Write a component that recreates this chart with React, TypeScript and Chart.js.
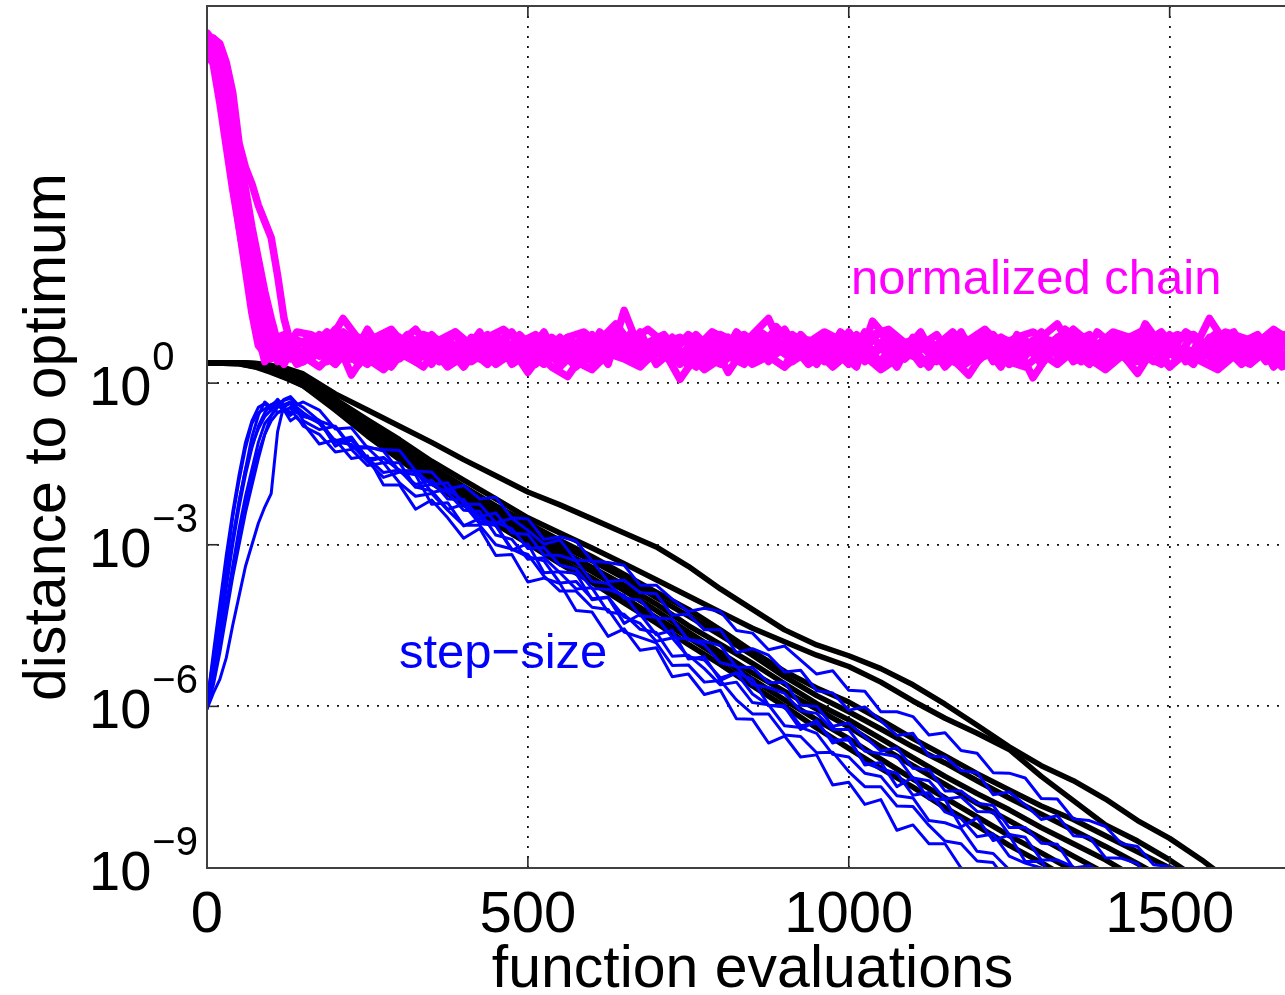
import React, { useEffect, useRef } from 'react';
import { Chart, registerables } from 'chart.js';

Chart.register(...registerables);

// ---------- axis definitions ----------
const X_MIN = 0;
const X_MAX = 1700;
const Y_MIN = 1e-9;
const Y_MAX = 1e7;
const X_TICKS = [0, 500, 1000, 1500];
const X_TICK_LABELS = ['0', '500', '1000', '1500'];
const Y_TICK_EXPONENTS = [0, -3, -6, -9];
const X_TITLE = 'function evaluations';
const Y_TITLE = 'distance to optimum';
const LABEL_CHAIN = 'normalized chain';
const LABEL_STEP = 'step\u2212size';

// ---------- data (values are log10 of the plotted quantity) ----------
// distance to optimum (black)
const BLACK_X = [0, 50, 75, 100, 125, 150, 200, 250, 300, 350, 400, 450, 500, 550, 600, 650, 700, 750, 800, 850, 900, 950, 1000, 1050, 1100, 1150, 1200, 1250, 1300, 1350, 1400, 1450, 1500, 1550, 1600];
const DIST_1 = [0.38, 0.38, 0.37, 0.33, 0.27, 0.17, -0.2, -0.5, -0.8, -1.1, -1.42, -1.72, -2.02, -2.26, -2.52, -2.78, -3.04, -3.4, -3.82, -4.2, -4.58, -4.86, -5.06, -5.3, -5.6, -5.96, -6.35, -6.75, -7.1, -7.38, -7.72, -8.12, -8.45, -8.85, -9.3];
const DIST_2 = [0.38, 0.38, 0.36, 0.3, 0.2, 0.08, -0.3, -0.68, -1.05, -1.45, -1.8, -2.15, -2.5, -2.78, -3.06, -3.35, -3.65, -3.95, -4.25, -4.55, -4.8, -5.05, -5.26, -5.55, -5.9, -6.22, -6.5, -6.8, -7.3, -7.75, -8.2, -8.5, -8.85, -9.25];
const DIST_3 = [0.38, 0.37, 0.33, 0.25, 0.13, 0.0, -0.38, -0.78, -1.15, -1.55, -1.92, -2.28, -2.6, -2.92, -3.22, -3.55, -3.88, -4.2, -4.58, -4.98, -5.35, -5.66, -5.92, -6.25, -6.6, -6.92, -7.25, -7.55, -7.85, -8.1, -8.4, -8.7, -9.0, -9.3];
const DIST_4 = [0.38, 0.38, 0.35, 0.27, 0.15, 0.02, -0.4, -0.82, -1.22, -1.62, -1.98, -2.35, -2.68, -3.0, -3.3, -3.62, -3.98, -4.32, -4.68, -5.05, -5.45, -5.8, -6.1, -6.42, -6.75, -7.05, -7.38, -7.7, -8.0, -8.3, -8.6, -8.92, -9.25];
const DIST_5 = [0.38, 0.36, 0.3, 0.2, 0.08, -0.05, -0.45, -0.88, -1.3, -1.7, -2.05, -2.42, -2.75, -3.1, -3.42, -3.75, -4.1, -4.5, -4.85, -5.2, -5.58, -5.95, -6.25, -6.6, -6.95, -7.3, -7.62, -7.92, -8.25, -8.55, -8.85, -9.2];
const DIST_6 = [0.38, 0.37, 0.34, 0.24, 0.1, -0.03, -0.48, -0.92, -1.35, -1.75, -2.12, -2.5, -2.82, -3.18, -3.5, -3.85, -4.22, -4.62, -5.0, -5.38, -5.72, -6.05, -6.38, -6.75, -7.1, -7.45, -7.8, -8.12, -8.45, -8.78, -9.1];
const DIST_7 = [0.38, 0.38, 0.36, 0.28, 0.14, 0.0, -0.42, -0.9, -1.38, -1.8, -2.2, -2.58, -2.9, -3.28, -3.62, -3.98, -4.35, -4.72, -5.1, -5.5, -5.88, -6.25, -6.6, -6.98, -7.35, -7.7, -8.05, -8.4, -8.72, -9.05, -9.4];
const DIST_8 = [0.38, 0.36, 0.31, 0.22, 0.1, -0.05, -0.5, -0.98, -1.42, -1.85, -2.25, -2.62, -2.98, -3.35, -3.7, -4.08, -4.45, -4.85, -5.22, -5.62, -6.0, -6.4, -6.78, -7.15, -7.5, -7.88, -8.22, -8.58, -8.9, -9.25];

// step-size (blue)
const BLUE_X = [0, 10, 20, 30, 40, 50, 60, 70, 80, 90, 100, 110, 120, 130, 140, 150, 175, 200, 225, 250, 275, 300, 325, 350, 375, 400, 425, 450, 475, 500, 525, 550, 575, 600, 625, 650, 675, 700, 725, 750, 775, 800, 825, 850, 875, 900, 925, 950, 975, 1000, 1025, 1050, 1075, 1100, 1125, 1150, 1175, 1200, 1225, 1250, 1275, 1300, 1325, 1350, 1375, 1400, 1425, 1450, 1475, 1500, 1525, 1550];
const STEP_1 = [-6.0, -5.6, -5.0, -4.3, -3.6, -3.0, -2.4, -1.9, -1.4, -0.95, -0.6, -0.45, -0.32, -0.28, -0.4, -0.35, -0.50, -0.85, -0.83, -1.20, -1.23, -1.25, -1.63, -1.65, -1.97, -1.90, -2.15, -2.12, -2.50, -2.52, -2.90, -2.85, -2.93, -3.30, -3.33, -3.38, -3.75, -3.75, -4.01, -4.24, -4.18, -4.24, -4.59, -4.64, -4.95, -4.88, -5.14, -5.40, -5.34, -5.70, -5.72, -6.10, -6.10, -6.19, -6.53, -6.49, -6.82, -6.87, -7.23, -7.24, -7.33, -7.71, -7.72, -8.09, -8.12, -8.23, -8.55, -8.60, -8.94, -8.97, -9.07, -9.37];
const STEP_2 = [-5.95, -5.0, -4.1, -3.2, -2.4, -1.7, -1.1, -0.7, -0.45, -0.38, -0.5, -0.35, -0.45, -0.55, -0.5, -0.7, -0.86, -0.80, -1.18, -1.18, -1.26, -1.64, -1.63, -1.88, -1.85, -2.25, -2.25, -2.59, -2.51, -2.73, -2.99, -2.91, -3.29, -3.30, -3.68, -3.66, -3.89, -3.91, -4.31, -4.29, -4.58, -4.58, -5.00, -4.93, -5.05, -5.36, -5.33, -5.71, -5.75, -6.07, -6.01, -6.27, -6.54, -6.50, -6.92, -6.94, -7.19, -7.23, -7.64, -7.59, -7.83, -8.10, -8.03, -8.40, -8.43, -8.81, -8.82, -8.92, -9.30];
const STEP_3 = [-6.05, -5.2, -4.3, -3.4, -2.5, -1.8, -1.2, -0.75, -0.55, -0.48, -0.4, -0.55, -0.5, -0.7, -0.62, -0.8, -0.95, -1.28, -1.23, -1.53, -1.48, -1.85, -2.10, -2.05, -2.36, -2.64, -2.64, -3.00, -3.08, -3.18, -3.58, -3.86, -3.86, -4.16, -4.20, -4.62, -4.72, -4.82, -5.24, -5.23, -5.55, -5.52, -5.88, -6.14, -6.14, -6.53, -6.56, -6.86, -6.85, -7.21, -7.49, -7.49, -7.85, -7.86, -8.21, -8.50, -8.55, -8.87, -8.90, -9.30];
const STEP_4 = [-6.0, -5.4, -4.8, -4.1, -3.4, -2.7, -2.1, -1.6, -1.1, -0.75, -0.6, -0.42, -0.3, -0.25, -0.38, -0.45, -0.70, -0.81, -1.21, -1.20, -1.48, -1.48, -1.93, -1.88, -2.03, -2.36, -2.38, -2.82, -2.90, -3.27, -3.24, -3.52, -3.82, -3.80, -4.25, -4.29, -4.57, -4.63, -5.07, -5.05, -5.30, -5.60, -5.55, -5.93, -5.97, -6.36, -6.39, -6.50, -6.89, -6.94, -7.24, -7.30, -7.66, -7.70, -8.12, -8.16, -8.27, -8.69, -8.73, -9.03, -9.05, -9.40];
const STEP_5 = [-5.9, -5.1, -4.4, -3.6, -2.9, -2.2, -1.6, -1.0, -0.6, -0.35, -0.45, -0.3, -0.42, -0.38, -0.55, -0.6, -0.74, -1.10, -1.06, -1.39, -1.66, -1.61, -1.93, -2.00, -2.34, -2.25, -2.61, -2.64, -3.08, -3.22, -3.30, -3.71, -3.68, -4.00, -3.97, -4.34, -4.46, -4.79, -4.73, -5.08, -5.14, -5.47, -5.38, -5.77, -5.98, -5.99, -6.36, -6.31, -6.62, -6.63, -7.05, -7.16, -7.24, -7.65, -7.60, -7.96, -8.08, -8.42, -8.37, -8.78, -8.91, -9.00, -9.44];
const STEP_6 = [-6.0, -5.5, -4.9, -4.2, -3.5, -2.9, -2.3, -1.75, -1.3, -0.95, -0.7, -0.55, -0.48, -0.6, -0.5, -0.62, -0.69, -1.09, -1.14, -1.45, -1.38, -1.63, -1.88, -1.80, -2.15, -2.16, -2.57, -2.59, -2.70, -3.07, -3.05, -3.38, -3.45, -3.81, -3.83, -3.94, -4.32, -4.35, -4.72, -4.75, -4.86, -5.19, -5.26, -5.60, -5.65, -5.76, -6.08, -6.13, -6.43, -6.43, -6.83, -6.88, -6.93, -7.33, -7.38, -7.72, -7.68, -7.95, -7.96, -8.38, -8.43, -8.85, -8.85, -8.98, -9.30];
const STEP_7 = [-6.05, -5.75, -5.5, -5.1, -4.5, -3.95, -3.4, -3.0, -2.6, -2.3, -2.05, -0.9, -0.4, -0.35, -0.45, -0.55, -0.75, -1.07, -1.00, -1.40, -1.39, -1.62, -1.63, -2.03, -1.97, -2.19, -2.48, -2.41, -2.78, -2.81, -3.19, -3.20, -3.30, -3.68, -3.72, -3.99, -4.03, -4.36, -4.38, -4.77, -4.79, -4.87, -5.27, -5.28, -5.56, -5.55, -5.98, -6.00, -6.37, -6.31, -6.56, -6.83, -6.77, -7.15, -7.18, -7.57, -7.57, -7.80, -7.84, -8.25, -8.25, -8.54, -8.56, -9.00, -8.96, -9.10, -9.44];
const STEP_8 = [-5.95, -5.3, -4.6, -3.8, -3.0, -2.3, -1.7, -1.2, -0.8, -0.55, -0.4, -0.33, -0.45, -0.35, -0.5, -0.6, -0.70, -1.17, -1.02, -1.45, -1.75, -1.65, -1.70, -2.25, -2.22, -2.65, -2.51, -2.64, -3.10, -2.98, -3.52, -3.50, -3.53, -4.02, -3.98, -4.46, -4.29, -4.67, -4.59, -5.12, -5.08, -5.52, -5.38, -5.50, -5.98, -6.01, -6.43, -6.26, -6.68, -6.58, -7.09, -7.04, -7.49, -7.32, -7.72, -7.73, -8.24, -8.07, -8.49, -8.39, -8.88, -8.88, -9.27, -9.30];
const STEP_9 = [-6.0, -5.3, -4.5, -3.7, -2.9, -2.2, -1.6, -1.15, -0.85, -0.62, -0.5, -0.4, -0.52, -0.45, -0.65, -0.75, -1.13, -1.05, -1.40, -1.35, -1.89, -1.89, -2.34, -2.17, -2.50, -2.88, -2.70, -3.20, -3.18, -3.69, -3.62, -3.72, -4.22, -4.25, -4.70, -4.56, -4.96, -4.91, -5.45, -5.40, -5.78, -5.70, -6.23, -6.24, -6.68, -6.55, -6.94, -6.90, -7.46, -7.41, -7.82, -7.73, -8.30, -8.20, -8.55, -8.55, -9.00, -9.10, -9.30];

// normalized chain (magenta)
const CHAIN_XA = [0, 10, 20, 30, 40, 50, 60, 70, 80, 90, 100, 110, 120, 130, 140, 150, 175, 200, 225, 250, 275, 300, 325, 350, 375, 400, 425, 450, 475, 500, 525, 550, 575, 600, 625, 650, 675, 700, 725, 750, 775, 800, 825, 850, 875, 900, 925, 950, 975, 1000, 1025, 1050, 1075, 1100, 1125, 1150, 1175, 1200, 1225, 1250, 1275, 1300, 1325, 1350, 1375, 1400, 1425, 1450, 1475, 1500, 1525, 1550, 1575, 1600, 1625, 1650, 1675, 1700];
const CHAIN_XB = [0, 10, 20, 30, 40, 50, 60, 70, 80, 90, 100, 110, 120, 130, 140, 162, 187, 212, 237, 262, 287, 312, 337, 362, 387, 412, 437, 462, 487, 512, 537, 562, 587, 612, 637, 662, 687, 712, 737, 762, 787, 812, 837, 862, 887, 912, 937, 962, 987, 1012, 1037, 1062, 1087, 1112, 1137, 1162, 1187, 1212, 1237, 1262, 1287, 1312, 1337, 1362, 1387, 1412, 1437, 1462, 1487, 1512, 1537, 1562, 1587, 1612, 1637, 1662, 1687, 1712];
const CHAIN_1 = [6.35, 6.2, 5.5, 4.6, 3.7, 2.9, 2.1, 1.3, 0.7, 0.55, 0.7, 0.5, 0.75, 0.6, 0.8, 0.75, 0.5, 0.85, 0.15, 0.6, 0.9, 0.45, 0.7, 0.35, 0.8, 0.55, 0.95, 0.4, 0.65, 0.2, 0.6, 0.85, 0.5, 0.75, 0.35, 1.35, 0.6, 0.8, 0.4, 0.65, 0.3, 0.7, 0.5, 0.9, 1.2, 0.55, 0.75, 0.35, 0.85, 0.5, 0.7, 0.95, 0.45, 0.65, 0.3, 0.8, 0.55, 0.9, 0.4, 0.7, 0.5, 0.85, 1.1, 0.6, 0.35, 0.75, 0.55, 0.18, 0.65, 0.9, 0.45, 0.7, 0.95, 0.5, 0.8, 0.4, 0.7, 0.55];
const CHAIN_2 = [6.45, 6.3, 5.9, 5.0, 4.2, 3.3, 2.5, 1.8, 1.1, 0.6, 0.45, 0.65, 0.5, 0.8, 0.6, 0.45, 0.7, 1.2, 0.8, 0.5, 0.55, 0.9, 0.65, 0.4, 0.45, 0.85, 0.75, 0.5, 0.9, 0.6, 0.3, 0.12, 0.55, 0.8, 1.1, 0.7, 0.45, 0.6, 0.07, 0.5, 0.8, 0.2, 0.65, 0.95, 0.75, 0.4, 0.6, 0.85, 0.55, 0.3, 1.15, 0.8, 0.5, 0.7, 0.9, 0.45, 0.15, 0.6, 0.85, 0.7, 0.1, 0.55, 1.0, 0.8, 0.5, 0.65, 0.4, 1.1, 0.7, 0.45, 0.6, 1.2, 0.75, 0.5, 0.85, 0.3, 0.6, 0.75];
const CHAIN_3 = [6.2, 6.4, 6.3, 5.95, 5.4, 4.45, 4.0, 3.7, 3.3, 3.0, 2.7, 2.0, 1.2, 0.75, 0.55, 0.6, 0.9, 0.7, 0.45, 1.0, 0.55, 0.75, 1.0, 0.6, 0.5, 0.8, 0.45, 0.7, 0.95, 0.55, 0.35, 0.6, 0.3, 0.65, 0.9, 0.75, 0.45, 0.55, 0.85, 0.3, 0.55, 0.9, 0.75, 0.45, 0.8, 1.0, 0.5, 0.7, 0.45, 0.95, 0.55, 0.4, 0.85, 0.6, 0.8, 0.45, 0.35, 0.6, 0.9, 0.55, 0.75, 0.35, 0.7, 1.0, 0.75, 0.5, 0.85, 0.6, 0.4, 0.55, 0.95, 0.75, 0.5, 0.85, 0.55, 0.7, 0.45, 0.8];
const CHAIN_4 = [6.0, 6.25, 5.7, 5.1, 4.4, 3.7, 3.0, 2.3, 1.6, 1.0, 0.6, 0.4, 0.55, 0.45, 0.7, 0.85, 0.4, 0.65, 0.35, 0.8, 0.95, 0.5, 0.3, 0.7, 0.9, 0.4, 0.6, 0.85, 0.45, 0.7, 0.8, 0.5, 0.9, 0.4, 0.6, 0.95, 0.55, 0.85, 0.35, 0.7, 0.45, 0.6, 0.85, 0.5, 1.05, 0.7, 0.35, 0.55, 0.8, 0.6, 0.85, 0.5, 0.75, 0.35, 0.6, 0.85, 0.45, 0.7, 0.3, 0.9, 0.55, 0.8, 0.6, 0.4, 0.95, 0.7, 0.85, 0.5, 0.35, 0.8, 0.9, 0.6, 0.4, 0.75, 0.9, 0.55, 0.35, 0.65];
const CHAIN_5 = [6.5, 6.35, 6.0, 5.4, 4.6, 3.8, 3.1, 2.5, 1.9, 1.3, 0.8, 0.55, 0.35, 0.6, 0.5, 0.4, 0.65, 1.0, 0.55, 0.35, 0.7, 0.6, 0.4, 0.85, 0.65, 0.3, 0.7, 0.9, 0.35, 0.55, 0.95, 0.4, 0.7, 0.5, 0.85, 0.55, 0.95, 0.35, 0.6, 0.9, 0.7, 0.4, 0.95, 0.65, 0.5, 0.3, 0.9, 0.6, 0.7, 0.4, 0.95, 0.7, 0.3, 0.85, 0.55, 0.6, 0.95, 0.4, 0.65, 0.35, 0.6, 0.95, 0.5, 0.75, 0.9, 0.35, 0.7, 0.45, 0.85, 0.3, 0.65, 0.45, 0.8, 0.95, 0.4, 0.6, 0.9, 0.5];
const CHAIN_6 = [6.3, 6.1, 5.6, 4.9, 4.0, 3.1, 2.3, 1.5, 0.9, 0.4, 0.55, 0.7, 0.45, 0.65, 0.4, 0.65, 0.95, 0.5, 0.75, 0.55, 0.3, 0.7, 0.85, 0.55, 0.95, 0.6, 0.35, 0.65, 0.75, 0.4, 0.85, 0.65, 0.4, 0.95, 0.65, 0.4, 0.75, 0.9, 0.55, 0.3, 0.65, 0.5, 0.35, 0.75, 0.6, 0.9, 0.7, 0.4, 0.95, 0.7, 0.55, 0.9, 0.6, 0.95, 0.4, 0.65, 0.5, 0.85, 0.6, 0.4, 0.8, 0.7, 0.95, 0.55, 0.7, 0.9, 0.6, 0.75, 0.95, 0.6, 0.35, 0.85, 0.65, 0.35, 0.6, 0.75, 0.95, 0.45];
const CHAIN_7 = [6.4, 6.15, 5.8, 5.2, 4.5, 3.9, 3.3, 2.7, 2.1, 1.5, 1.0, 0.7, 0.5, 0.65, 0.55, 0.55, 0.8, 0.6, 0.45, 0.7, 0.5, 0.85, 0.6, 0.75, 0.45, 0.65, 0.55, 0.8, 0.5, 0.7, 0.45, 0.75, 0.6, 0.4, 0.7, 0.8, 0.5, 0.65, 0.75, 0.45, 0.6, 0.8, 0.55, 0.7, 0.45, 0.65, 0.85, 0.55, 0.6, 0.75, 0.4, 0.65, 0.5, 0.8, 0.6, 0.7, 0.45, 0.75, 0.55, 0.6, 0.8, 0.5, 0.7, 0.45, 0.65, 0.8, 0.6, 0.5, 0.75, 0.6, 0.45, 0.7, 0.55, 0.8, 0.6, 0.5, 0.7, 0.6];
const CHAIN_8 = [6.25, 6.4, 6.1, 5.6, 5.0, 4.3, 3.6, 2.9, 2.3, 1.7, 1.2, 0.75, 0.55, 0.7, 0.5, 0.7, 0.5, 0.75, 0.6, 0.45, 0.8, 0.55, 0.65, 0.4, 0.7, 0.6, 0.8, 0.45, 0.65, 0.75, 0.5, 0.6, 0.7, 0.45, 0.8, 0.6, 0.7, 0.5, 0.45, 0.75, 0.6, 0.85, 0.5, 0.65, 0.55, 0.75, 0.45, 0.7, 0.6, 0.5, 0.8, 0.65, 0.45, 0.7, 0.55, 0.8, 0.6, 0.5, 0.75, 0.45, 0.65, 0.7, 0.5, 0.8, 0.6, 0.45, 0.7, 0.55, 0.8, 0.6, 0.5, 0.75, 0.65, 0.45, 0.7, 0.6, 0.5, 0.65];
const CHAIN_9 = [6.3, 5.9, 5.2, 4.4, 3.6, 2.9, 2.2, 1.6, 1.1, 0.75, 0.6, 0.45, 0.7, 0.55, 0.65, 0.5, 0.3, 0.6, 0.8, 0.55, 0.35, 0.75, 0.5, 0.9, 0.6, 0.35, 0.55, 0.75, 0.6, 0.4, 0.8, 0.3, 0.6, 0.9, 0.5, 0.7, 0.35, 0.55, 0.6, 0.85, 0.5, 0.35, 0.6, 0.8, 0.4, 0.75, 0.5, 0.6, 0.3, 0.55, 0.8, 0.35, 0.6, 0.5, 0.75, 0.3, 0.6, 0.8, 0.5, 0.35, 0.65, 0.55, 0.85, 0.4, 0.6, 0.3, 0.75, 0.55, 0.6, 0.85, 0.4, 0.6, 0.35, 0.65, 0.5, 0.85, 0.4, 0.6];
const CHAIN_10 = [6.4, 6.0, 5.3, 4.7, 4.0, 3.4, 2.8, 2.2, 1.6, 1.1, 0.8, 0.6, 0.8, 0.65, 0.75, 0.8, 0.6, 0.45, 0.85, 0.65, 0.9, 0.5, 0.7, 0.8, 0.4, 0.7, 0.9, 0.55, 0.75, 0.35, 0.65, 0.85, 0.6, 0.7, 0.95, 0.5, 0.65, 0.8, 0.45, 0.9, 0.6, 0.75, 0.5, 0.85, 0.65, 0.45, 0.8, 0.7, 0.55, 0.9, 0.6, 0.75, 0.45, 0.8, 0.7, 0.95, 0.55, 0.65, 0.85, 0.5, 0.75, 0.6, 0.9, 0.7, 0.45, 0.8, 0.6, 0.85, 0.7, 0.5, 0.9, 0.65, 0.8, 0.55, 0.7, 0.9, 0.6, 0.75];
const CHAIN_11 = [6.1, 6.3, 5.9, 5.3, 4.7, 4.0, 3.3, 2.6, 2.0, 1.4, 0.9, 0.6, 0.4, 0.55, 0.35, 0.4, 0.6, 0.35, 0.7, 0.45, 0.25, 0.55, 0.4, 0.65, 0.3, 0.5, 0.7, 0.35, 0.55, 0.3, 0.45, 0.65, 0.4, 0.25, 0.55, 0.45, 0.3, 0.6, 0.4, 0.55, 0.25, 0.45, 0.6, 0.35, 0.5, 0.3, 0.55, 0.4, 0.65, 0.35, 0.5, 0.25, 0.45, 0.6, 0.35, 0.55, 0.3, 0.5, 0.65, 0.4, 0.3, 0.55, 0.35, 0.6, 0.45, 0.25, 0.5, 0.4, 0.6, 0.3, 0.55, 0.4, 0.25, 0.5, 0.35, 0.6, 0.3, 0.45];
const CHAIN_12 = [6.35, 6.2, 5.75, 5.2, 4.6, 3.95, 3.3, 2.7, 2.0, 1.45, 0.95, 0.85, 0.9, 0.75, 0.95, 0.9, 0.75, 0.95, 0.7, 0.85, 1.0, 0.65, 0.9, 0.8, 0.95, 0.7, 0.85, 1.0, 0.75, 0.9, 0.65, 0.85, 0.95, 0.7, 0.9, 0.8, 1.0, 0.75, 0.85, 0.65, 0.95, 0.8, 0.9, 0.7, 1.0, 0.85, 0.75, 0.95, 0.8, 0.7, 0.9, 1.0, 0.75, 0.85, 0.65, 0.9, 0.8, 1.0, 0.7, 0.85, 0.95, 0.75, 0.9, 0.8, 0.7, 0.95, 0.85, 1.0, 0.75, 0.9, 0.8, 0.7, 0.95, 0.85, 0.75, 1.0, 0.8, 0.9];

// ---------- styling ----------
const FONT = "'Liberation Sans', Arial, Helvetica, sans-serif";
const MAGENTA = '#ff00ff';
const BLUE = '#0000ff';
const BLACK = '#000000';

function series(xs: number[], logs: number[], color: string, width: number) {
  const n = Math.min(xs.length, logs.length);
  const data: { x: number; y: number }[] = [];
  for (let i = 0; i < n; i++) data.push({ x: xs[i], y: Math.pow(10, logs[i]) });
  return {
    data,
    borderColor: color,
    backgroundColor: color,
    borderWidth: width,
    pointRadius: 0,
    pointHoverRadius: 0,
    fill: false,
    tension: 0,
    borderJoinStyle: 'round' as const,
    borderCapStyle: 'round' as const,
    clip: 0,
  };
}

const decorPlugin = {
  id: 'decor',
  afterDatasetsDraw(chart: any) {
    const { ctx, chartArea: a, scales } = chart;
    const xs = scales.x;
    const ys = scales.y;
    ctx.save();
    const line = (x1: number, y1: number, x2: number, y2: number) => {
      ctx.beginPath();
      ctx.moveTo(x1, y1);
      ctx.lineTo(x2, y2);
      ctx.stroke();
    };
    ctx.strokeStyle = '#262626';
    ctx.lineWidth = 1.6;
    const TL = 12;
    X_TICKS.forEach((v) => {
      const px = xs.getPixelForValue(v);
      line(px, a.bottom, px, a.bottom - TL);
      line(px, a.top, px, a.top + TL);
    });
    Y_TICK_EXPONENTS.forEach((e) => {
      const py = ys.getPixelForValue(Math.pow(10, e));
      line(a.left, py, a.left + TL, py);
      line(a.right, py, a.right - TL, py);
    });
    ctx.strokeStyle = '#404040';
    ctx.lineWidth = 2;
    ctx.strokeRect(a.left, a.top, a.right - a.left, a.bottom - a.top);
    ctx.restore();
  },
  afterDraw(chart: any) {
    const { ctx, chartArea: a, scales } = chart;
    const xs = scales.x;
    const ys = scales.y;
    ctx.save();
    ctx.fillStyle = '#000';
    ctx.textBaseline = 'alphabetic';
    Y_TICK_EXPONENTS.forEach((e) => {
      const py = ys.getPixelForValue(Math.pow(10, e));
      ctx.textAlign = 'left';
      ctx.font = `56px ${FONT}`;
      ctx.fillText('10', 89, py + 22);
      const w = ctx.measureText('10').width;
      ctx.font = `40px ${FONT}`;
      ctx.fillText(e === 0 ? '0' : '\u2212' + Math.abs(e), 89 + w + 1, py - 13);
    });
    ctx.font = `58px ${FONT}`;
    ctx.textAlign = 'center';
    X_TICKS.forEach((v, i) => {
      ctx.fillText(X_TICK_LABELS[i], xs.getPixelForValue(v), 932);
    });
    ctx.font = `59px ${FONT}`;
    ctx.fillText(X_TITLE, (a.left + a.right) / 2, 987);
    ctx.save();
    ctx.translate(65, (a.top + a.bottom) / 2);
    ctx.rotate(-Math.PI / 2);
    ctx.fillText(Y_TITLE, 0, 0);
    ctx.restore();
    ctx.textAlign = 'left';
    ctx.font = `49px ${FONT}`;
    ctx.fillStyle = MAGENTA;
    ctx.fillText(LABEL_CHAIN, 851, 294);
    ctx.fillStyle = BLUE;
    ctx.fillText(LABEL_STEP, 399, 668);
    ctx.restore();
  },
};

export default function App() {
  const ref = useRef<HTMLCanvasElement>(null);
  useEffect(() => {
    document.body.style.margin = '0';
    const canvas = ref.current;
    if (!canvas) return;
    const MW = 7.5;
    const BW = 3;
    const KW = 5.5;
    const datasets: any[] = [
      series(CHAIN_XA, CHAIN_1, MAGENTA, MW),
      series(CHAIN_XB, CHAIN_2, MAGENTA, MW),
      series(CHAIN_XA, CHAIN_3, MAGENTA, MW),
      series(CHAIN_XB, CHAIN_4, MAGENTA, MW),
      series(CHAIN_XA, CHAIN_5, MAGENTA, MW),
      series(CHAIN_XB, CHAIN_6, MAGENTA, MW),
      series(CHAIN_XA, CHAIN_7, MAGENTA, MW),
      series(CHAIN_XB, CHAIN_8, MAGENTA, MW),
      series(CHAIN_XA, CHAIN_9, MAGENTA, MW),
      series(CHAIN_XB, CHAIN_10, MAGENTA, MW),
      series(CHAIN_XA, CHAIN_11, MAGENTA, MW),
      series(CHAIN_XB, CHAIN_12, MAGENTA, MW),
      series(BLUE_X, STEP_1, BLUE, BW),
      series(BLUE_X, STEP_2, BLUE, BW),
      series(BLUE_X, STEP_3, BLUE, BW),
      series(BLUE_X, STEP_4, BLUE, BW),
      series(BLUE_X, STEP_5, BLUE, BW),
      series(BLUE_X, STEP_6, BLUE, BW),
      series(BLUE_X, STEP_7, BLUE, BW),
      series(BLUE_X, STEP_8, BLUE, BW),
      series(BLUE_X, STEP_9, BLUE, BW),
      series(BLACK_X, DIST_1, BLACK, KW),
      series(BLACK_X, DIST_2, BLACK, KW),
      series(BLACK_X, DIST_3, BLACK, KW),
      series(BLACK_X, DIST_4, BLACK, KW),
      series(BLACK_X, DIST_5, BLACK, KW),
      series(BLACK_X, DIST_6, BLACK, KW),
      series(BLACK_X, DIST_7, BLACK, KW),
      series(BLACK_X, DIST_8, BLACK, KW),
    ];
    const gridCommon = {
      color: '#111111',
      lineWidth: 1.8,
      drawTicks: false,
    };
    const chart = new Chart(canvas, {
      type: 'line',
      data: { datasets },
      options: {
        animation: false,
        responsive: false,
        maintainAspectRatio: false,
        events: [],
        layout: { padding: { left: 207, top: 6, right: 2, bottom: 127 } },
        plugins: { legend: { display: false }, tooltip: { enabled: false } },
        scales: {
          x: {
            type: 'linear',
            min: X_MIN,
            max: X_MAX,
            afterBuildTicks: (s: any) => {
              s.ticks = X_TICKS.map((v) => ({ value: v }));
            },
            afterFit: (s: any) => {
              s.height = 0;
            },
            ticks: { display: false },
            grid: gridCommon,
            border: { display: false, dash: [2, 8] },
          },
          y: {
            type: 'logarithmic',
            min: Y_MIN,
            max: Y_MAX,
            afterBuildTicks: (s: any) => {
              s.ticks = Y_TICK_EXPONENTS.map((e) => ({ value: Math.pow(10, e) }));
            },
            afterFit: (s: any) => {
              s.width = 0;
            },
            ticks: { display: false },
            grid: gridCommon,
            border: { display: false, dash: [2, 8] },
          },
        },
      } as any,
      plugins: [decorPlugin],
    });
    return () => chart.destroy();
  }, []);
  return (
    <div style={{ width: 1285, height: 995, overflow: 'hidden', position: 'relative', background: '#fff' }}>
      <canvas ref={ref} width={1300} height={995} style={{ display: 'block', width: 1300, height: 995 }} />
    </div>
  );
}
